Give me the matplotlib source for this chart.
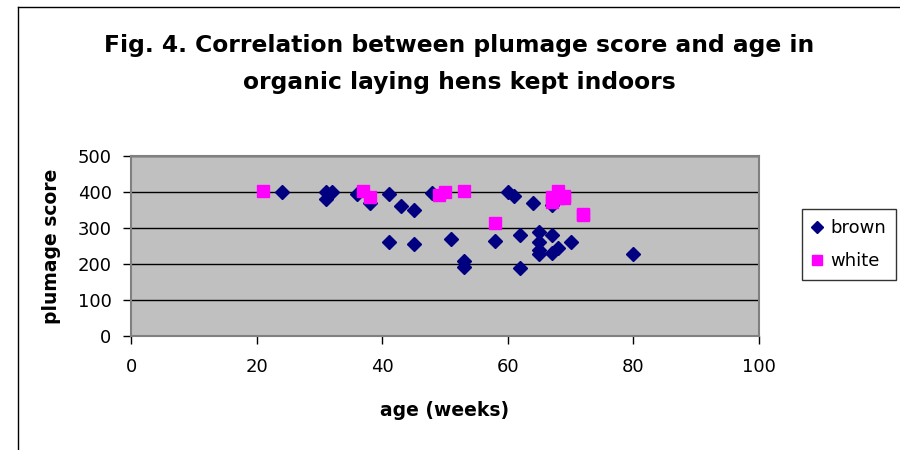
import matplotlib.pyplot as plt
from matplotlib.lines import Line2D

plt.rcParams['font.family'] = ['DejaVu Sans']

# brown hens: age (weeks), plumage score
brown_age = [24, 31, 32, 31, 36, 38, 41, 43, 45, 41, 45, 48, 51, 53, 53, 58,
             60, 61, 62, 62, 64, 65, 65, 65, 65, 67, 67, 67, 68, 70, 80]
brown_score = [400, 400, 400, 380, 395, 370, 395, 360, 350, 260, 255, 398, 270, 208, 193, 265,
               400, 390, 280, 188, 370, 290, 260, 240, 228, 280, 230, 365, 245, 260, 228]

# white hens
white_age = [21, 37, 38, 49, 50, 53, 58, 67, 67, 68, 68, 69, 69, 72, 72]
white_score = [403, 402, 385, 392, 400, 403, 315, 372, 385, 402, 383, 390, 382, 340, 335]

x_ticks = [0, 20, 40, 60, 80, 100]
y_ticks = [0, 100, 200, 300, 400, 500]

fig = plt.figure(figsize=(9, 4.5), dpi=100)
ax = fig.add_axes([0.1456, 0.2533, 0.6978, 0.4])
ax.set_facecolor('#C0C0C0')

ax.plot(brown_age, brown_score, 'D', color='#000080', ms=7, mec='#000080', label='brown', zorder=3)
ax.plot(white_age, white_score, 's', color='#FF00FF', ms=8, mec='#FF00FF', label='white', zorder=4)

ax.set_xlim(0, 100)
ax.set_ylim(0, 500)
ax.set_xticks(x_ticks)
ax.set_yticks(y_ticks)
ax.tick_params(labelsize=13, direction='out', length=6, color='black', width=1)
ax.tick_params(axis='x', pad=10)
ax.tick_params(axis='y', pad=8)
ax.yaxis.grid(True, color='black', lw=1)
ax.set_axisbelow(True)
for s in ax.spines.values():
    s.set_color('#808080')
    s.set_linewidth(1.5)

ax.set_xlabel('age (weeks)', fontsize=13.5, fontweight='bold', labelpad=18)
ax.set_ylabel('plumage score', fontsize=13.5, fontweight='bold', labelpad=12)

fig.text(0.51, 0.858, 'Fig. 4. Correlation between plumage score and age in\norganic laying hens kept indoors',
         ha='center', va='center', fontsize=16.8, fontweight='bold', linespacing=1.8)

handles = [Line2D([], [], marker='D', ls='', color='#000080', ms=6),
           Line2D([], [], marker='s', ls='', color='#FF00FF', ms=7)]
leg = fig.legend(handles, ['brown', 'white'], loc='center left', bbox_to_anchor=(0.881, 0.456),
                 fontsize=13, frameon=True, fancybox=False, edgecolor='black',
                 handlelength=0.6, handletextpad=0.4, labelspacing=0.85, borderpad=0.55)
leg.get_frame().set_linewidth(1)

# chart border
fig.add_artist(Line2D([0.02, 0.02], [0.0, 0.985], color='black', lw=1, transform=fig.transFigure))
fig.add_artist(Line2D([0.02, 1.0], [0.985, 0.985], color='black', lw=1, transform=fig.transFigure))

fig.savefig('out.png', dpi=100)
